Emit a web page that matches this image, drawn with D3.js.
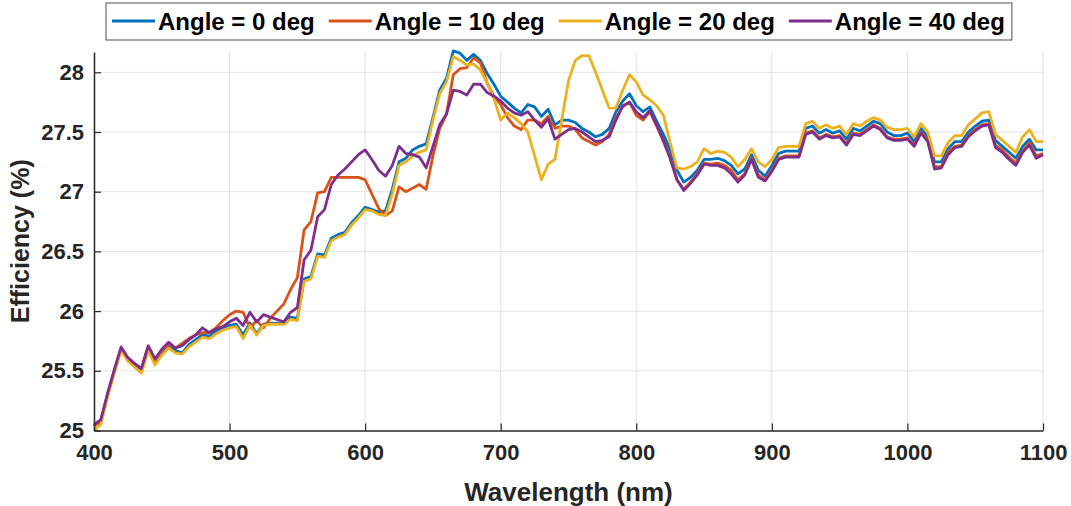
<!DOCTYPE html>
<html>
<head>
<meta charset="utf-8">
<script src="https://cdn.jsdelivr.net/npm/d3@7"></script>
<style>
    body { margin: 0; background: #fff; }
    svg { display: block; font-family: 'Liberation Sans', Arial, sans-serif; }
</style>
</head>
<body>
<div class="chart"></div>
<script>
// wavelength grid, 400..1100 nm every 5 nm
const wavelengths = d3.range(400, 1101, 5);

const angle0 = [
    25.04, 25.08, 25.30, 25.50, 25.69, 25.60, 25.55, 25.51, 25.69, 25.58,
    25.65, 25.71, 25.67, 25.65, 25.72, 25.76, 25.80, 25.79, 25.83, 25.86,
    25.88, 25.89, 25.80, 25.90, 25.81, 25.89, 25.90, 25.90, 25.90, 25.95,
    25.94, 26.27, 26.29, 26.48, 26.47, 26.61, 26.64, 26.66, 26.74, 26.80,
    26.87, 26.85, 26.83, 26.84, 27.02, 27.25, 27.28, 27.35, 27.38, 27.40,
    27.62, 27.85, 27.95, 28.18, 28.16, 28.10, 28.15, 28.10, 27.99, 27.90,
    27.80, 27.75, 27.70, 27.66, 27.73, 27.71, 27.63, 27.69, 27.56, 27.60,
    27.60, 27.58, 27.53, 27.50, 27.46, 27.48, 27.53, 27.67, 27.76, 27.82,
    27.72, 27.67, 27.71, 27.59, 27.48, 27.35, 27.18, 27.08, 27.12, 27.18,
    27.27, 27.27, 27.28, 27.26, 27.22, 27.15, 27.19, 27.31, 27.18, 27.13,
    27.22, 27.32, 27.34, 27.34, 27.34, 27.53, 27.55, 27.49, 27.52, 27.49,
    27.51, 27.44, 27.53, 27.51, 27.55, 27.59, 27.57, 27.50, 27.47, 27.47,
    27.49, 27.42, 27.53, 27.46, 27.25, 27.25, 27.36, 27.42, 27.42, 27.50,
    27.55, 27.59, 27.60, 27.43, 27.38, 27.33, 27.28, 27.38, 27.44, 27.35,
    27.35
];

const angle10 = [
    25.04, 25.07, 25.30, 25.50, 25.69, 25.60, 25.56, 25.52, 25.70, 25.59,
    25.67, 25.72, 25.69, 25.73, 25.77, 25.80, 25.82, 25.82, 25.86, 25.92,
    25.97, 26.00, 25.99, 25.86, 25.92, 25.86, 25.94, 26.00, 26.06, 26.18,
    26.28, 26.68, 26.75, 26.99, 27.00, 27.12, 27.12, 27.12, 27.12, 27.12,
    27.10, 26.98, 26.86, 26.80, 26.84, 27.04, 27.00, 27.03, 27.06, 27.02,
    27.30, 27.53, 27.65, 27.98, 28.03, 28.04, 28.12, 28.08, 27.91, 27.80,
    27.73, 27.62, 27.55, 27.52, 27.60, 27.60, 27.57, 27.63, 27.53, 27.55,
    27.55, 27.52, 27.45, 27.42, 27.39, 27.42, 27.48, 27.62, 27.71, 27.75,
    27.64, 27.60, 27.67, 27.55, 27.42, 27.28, 27.10, 27.02, 27.08, 27.15,
    27.24, 27.23, 27.24, 27.22, 27.18, 27.10, 27.15, 27.28, 27.14, 27.10,
    27.18, 27.28, 27.30, 27.30, 27.30, 27.49, 27.51, 27.45, 27.48, 27.46,
    27.47, 27.40, 27.49, 27.48, 27.52, 27.56, 27.53, 27.46, 27.44, 27.44,
    27.45, 27.39, 27.50, 27.43, 27.21, 27.21, 27.33, 27.38, 27.39, 27.47,
    27.52, 27.56, 27.57, 27.39, 27.35, 27.29, 27.24, 27.34, 27.41, 27.30,
    27.32
];

const angle20 = [
    25.00, 25.05, 25.28, 25.48, 25.67, 25.58, 25.53, 25.48, 25.67, 25.55,
    25.63, 25.69, 25.65, 25.64, 25.70, 25.74, 25.78, 25.77, 25.81, 25.84,
    25.86, 25.87, 25.77, 25.88, 25.80, 25.88, 25.89, 25.89, 25.89, 25.93,
    25.92, 26.25, 26.27, 26.46, 26.45, 26.59, 26.62, 26.64, 26.72, 26.78,
    26.85, 26.84, 26.81, 26.80, 26.98, 27.22, 27.25, 27.30, 27.33, 27.35,
    27.60, 27.82, 27.92, 28.13, 28.10, 28.06, 28.07, 28.02, 27.91, 27.78,
    27.60, 27.66, 27.62, 27.57, 27.50, 27.30, 27.10, 27.23, 27.27, 27.60,
    27.93, 28.10, 28.14, 28.14, 28.00, 27.85, 27.70, 27.70, 27.85, 27.98,
    27.92, 27.81, 27.77, 27.72, 27.64, 27.41, 27.20, 27.19, 27.21, 27.25,
    27.36, 27.32, 27.34, 27.33, 27.29, 27.21, 27.27, 27.36, 27.25, 27.21,
    27.27, 27.37, 27.38, 27.38, 27.38, 27.57, 27.59, 27.53, 27.56, 27.53,
    27.55, 27.48, 27.57, 27.55, 27.59, 27.62, 27.60, 27.54, 27.52, 27.52,
    27.53, 27.46, 27.57, 27.50, 27.30, 27.30, 27.41, 27.47, 27.47, 27.56,
    27.61, 27.66, 27.67, 27.48, 27.43, 27.38, 27.33, 27.46, 27.52, 27.42,
    27.42
];

const angle40 = [
    25.05, 25.09, 25.31, 25.51, 25.70, 25.61, 25.56, 25.52, 25.71, 25.60,
    25.68, 25.74, 25.69, 25.71, 25.76, 25.80, 25.86, 25.82, 25.85, 25.87,
    25.91, 25.94, 25.88, 25.99, 25.91, 25.97, 25.95, 25.93, 25.91, 25.99,
    26.03, 26.43, 26.51, 26.79, 26.85, 27.06, 27.14, 27.19, 27.25, 27.31,
    27.35, 27.27, 27.18, 27.13, 27.22, 27.38, 27.32, 27.31, 27.29, 27.20,
    27.38, 27.56, 27.65, 27.85, 27.84, 27.81, 27.90, 27.90, 27.83, 27.80,
    27.76, 27.70, 27.66, 27.64, 27.67, 27.60, 27.54, 27.61, 27.44, 27.48,
    27.52, 27.53, 27.50, 27.46, 27.42, 27.43, 27.46, 27.60, 27.72, 27.75,
    27.67, 27.62, 27.68, 27.56, 27.43, 27.28, 27.10, 27.01, 27.07, 27.14,
    27.23, 27.22, 27.22, 27.20, 27.15, 27.08, 27.14, 27.27, 27.12, 27.09,
    27.17, 27.27, 27.29, 27.29, 27.29, 27.48, 27.50, 27.44, 27.47, 27.45,
    27.46, 27.39, 27.48, 27.47, 27.51, 27.55, 27.52, 27.45, 27.43, 27.43,
    27.44, 27.38, 27.49, 27.42, 27.19, 27.20, 27.31, 27.37, 27.38, 27.46,
    27.51, 27.55, 27.56, 27.37, 27.33, 27.27, 27.22, 27.33, 27.39, 27.28,
    27.31
];

const seriesNames = ['Angle = 0 deg', 'Angle = 10 deg', 'Angle = 20 deg', 'Angle = 40 deg'];
const seriesColors = ['#0072BD', '#D95319', '#EDB120', '#7E2F8E'];
const seriesValues = [angle0, angle10, angle20, angle40];

const xTicks = [400, 500, 600, 700, 800, 900, 1000, 1100];
const yTicks = [25, 25.5, 26, 26.5, 27, 27.5, 28];

const width = 1071;
const height = 506;
const margin = { top: 52, right: 28, bottom: 75.5, left: 94 };
const axisColor = '#262626';

const svg = d3.select('.chart')
    .append('svg')
    .attr('width', width)
    .attr('height', height);

const x = d3.scaleLinear()
    .domain([400, 1100])
    .range([margin.left, width - margin.right]);

const y = d3.scaleLinear()
    .domain([25, 28.17])
    .range([height - margin.bottom, margin.top]);

// grid
const grid = svg.append('g').attr('class', 'grid');
grid.selectAll('.vgrid')
    .data(xTicks.slice(1))
    .enter()
    .append('line')
    .attr('x1', d => x(d))
    .attr('x2', d => x(d))
    .attr('y1', y.range()[0])
    .attr('y2', y.range()[1])
    .attr('stroke', '#e3e3e3')
    .attr('stroke-width', 1);

grid.selectAll('.hgrid')
    .data(yTicks.slice(1))
    .enter()
    .append('line')
    .attr('x1', x.range()[0])
    .attr('x2', x.range()[1])
    .attr('y1', d => y(d))
    .attr('y2', d => y(d))
    .attr('stroke', '#e3e3e3')
    .attr('stroke-width', 1);

// lines
const line = d3.line()
    .x((d, i) => x(wavelengths[i]))
    .y(d => y(d));

svg.append('g')
    .attr('class', 'series')
    .selectAll('path')
    .data(seriesValues)
    .enter()
    .append('path')
    .attr('d', d => line(d))
    .attr('fill', 'none')
    .attr('stroke', (d, i) => seriesColors[i])
    .attr('stroke-width', 2.8)
    .attr('stroke-linejoin', 'round');

// axes (ticks point inward like matlab)
const xAxis = svg.append('g')
    .attr('transform', `translate(0,${y.range()[0]})`)
    .call(d3.axisBottom(x).tickValues(xTicks).tickFormat(d3.format('d')).tickSizeInner(-7).tickSizeOuter(0).tickPadding(14));

const yAxis = svg.append('g')
    .attr('transform', `translate(${x.range()[0]},0)`)
    .call(d3.axisLeft(y).tickValues(yTicks).tickFormat(d3.format('')).tickSizeInner(-7).tickSizeOuter(0).tickPadding(10));

[xAxis, yAxis].forEach(ax => {
    ax.select('.domain').attr('stroke', axisColor).attr('stroke-width', 1.5);
    ax.selectAll('.tick line').attr('stroke', axisColor).attr('stroke-width', 1.2);
    ax.selectAll('.tick text')
        .attr('fill', axisColor)
        .style('font-size', '22px')
        .style('font-weight', 'bold')
        .style('font-family', 'Liberation Sans, Arial, sans-serif');
});

svg.append('text')
    .attr('x', (x.range()[0] + x.range()[1]) / 2)
    .attr('y', 501)
    .attr('text-anchor', 'middle')
    .attr('fill', axisColor)
    .style('font-size', '26px')
    .style('font-weight', 'bold')
    .text('Wavelength (nm)');

svg.append('text')
    .attr('transform', `translate(29,${(y.range()[0] + y.range()[1]) / 2}) rotate(-90)`)
    .attr('text-anchor', 'middle')
    .attr('fill', axisColor)
    .style('font-size', '25px')
    .style('font-weight', 'bold')
    .text('Efficiency (%)');

// legend
const legend = svg.append('g').attr('class', 'legend');
const legendBox = legend.append('rect')
    .attr('y', 3)
    .attr('height', 37)
    .attr('fill', '#fff')
    .attr('stroke', '#6b6b6b')
    .attr('stroke-width', 1.2);

let lx = 112;
seriesNames.forEach((name, i) => {
    legend.append('line')
        .attr('x1', lx)
        .attr('x2', lx + 43)
        .attr('y1', 21)
        .attr('y2', 21)
        .attr('stroke', seriesColors[i])
        .attr('stroke-width', 2.8);
    const t = legend.append('text')
        .attr('x', lx + 46)
        .attr('y', 30)
        .attr('fill', '#000')
        .style('font-size', '24px')
        .style('font-weight', 'bold')
        .text(name);
    lx = lx + 46 + t.node().getComputedTextLength() + 14;
});
legendBox.attr('x', 106).attr('width', lx - 106 - 7);
</script>
</body>
</html>
